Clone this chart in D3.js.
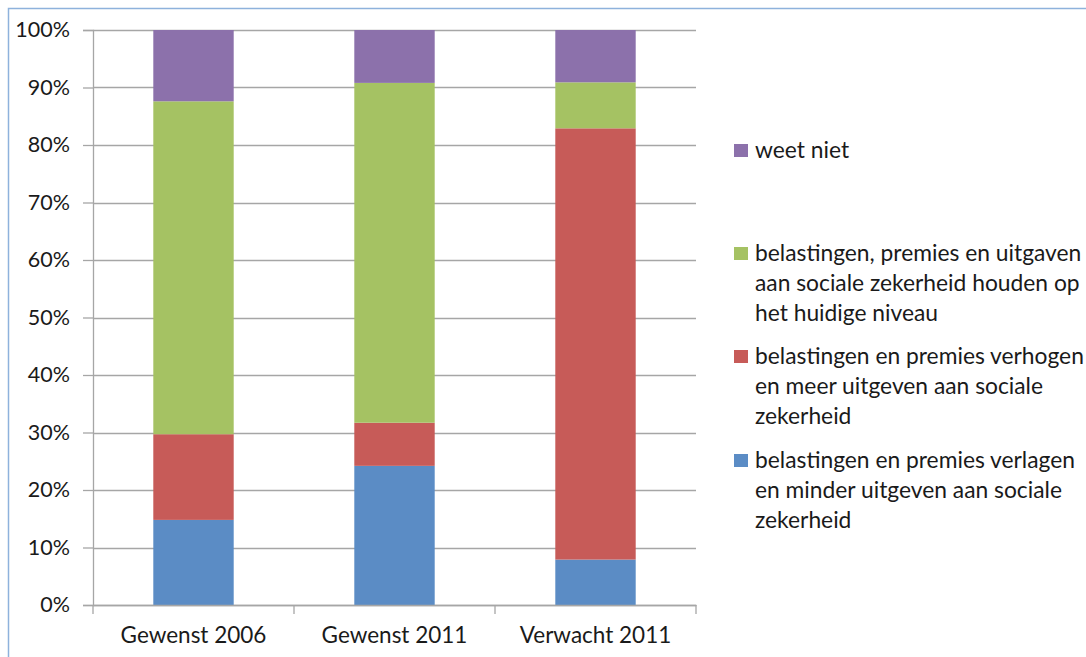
<!DOCTYPE html>
<html>
<head>
<meta charset="utf-8">
<script src="https://cdn.jsdelivr.net/npm/d3@7"></script>
<style>
  body { margin: 0; background: #fff; }
  svg text { font-family: Lato, "Open Sans", sans-serif; fill: #1a1a1a; }
</style>
</head>
<body>
<div id="chart"></div>
<script>
// categories on the x axis
var categories = ["Gewenst 2006", "Gewenst 2011", "Verwacht 2011"];
// series, bottom to top (percentages)
var verlagen = [14.8, 24.2, 7.9];
var verhogen = [14.9, 7.5, 75.0];
var huidig = [57.9, 59.1, 8.0];
var weetNiet = [12.4, 9.2, 9.1];
var yTicks = [0, 10, 20, 30, 40, 50, 60, 70, 80, 90, 100];

var seriesNames = ["verlagen", "verhogen", "huidig", "weetNiet"];
var seriesValues = { verlagen: verlagen, verhogen: verhogen, huidig: huidig, weetNiet: weetNiet };
var colors = { verlagen: "#5b8cc5", verhogen: "#c75b58", huidig: "#a5c263", weetNiet: "#8c71ab" };
// legend, top to bottom
var legendItems = [
  { key: "weetNiet", lines: ["weet niet"] },
  { key: "huidig", lines: ["belastingen, premies en uitgaven", "aan sociale zekerheid houden op", "het huidige niveau"] },
  { key: "verhogen", lines: ["belastingen en premies verhogen", "en meer uitgeven aan sociale", "zekerheid"] },
  { key: "verlagen", lines: ["belastingen en premies verlagen", "en minder uitgeven aan sociale", "zekerheid"] }
];

var W = 1086, H = 657;
var margin = { top: 30, right: 390, bottom: 52, left: 93 };
var width = W - margin.left - margin.right,
    height = H - margin.top - margin.bottom;

var svg = d3.select("#chart").append("svg")
  .attr("width", W).attr("height", H);

// outer chart frame
svg.append("rect")
  .attr("x", 8.5).attr("y", 8.5)
  .attr("width", W + 20).attr("height", H + 20)
  .attr("fill", "none").attr("stroke", "#8eb2dc").attr("stroke-width", 1.5);

var g = svg.append("g")
  .attr("transform", "translate(" + margin.left + "," + margin.top + ")");

var data = categories.map(function(c, i) {
  var row = { cat: c };
  seriesNames.forEach(function(s) { row[s] = seriesValues[s][i]; });
  return row;
});
var stacked = d3.stack().keys(seriesNames)(data);

var x = d3.scaleBand().domain(categories).range([0, width])
  .paddingInner(0.6).paddingOuter(0.3);
var y = d3.scaleLinear().domain([0, 100]).range([height, 0]);

// gridlines
g.selectAll(".grid").data(yTicks).enter().append("line")
  .attr("x1", 0).attr("x2", width)
  .attr("y1", function(d) { return Math.round(y(d)) + 0.5; })
  .attr("y2", function(d) { return Math.round(y(d)) + 0.5; })
  .attr("stroke", "#a6a6a6").attr("stroke-width", 1.3);

// bars
g.selectAll(".layer").data(stacked).enter().append("g")
  .attr("fill", function(d) { return colors[d.key]; })
  .selectAll("rect").data(function(d) { return d; }).enter().append("rect")
    .attr("x", function(d) { return x(d.data.cat); })
    .attr("width", x.bandwidth())
    .attr("y", function(d) { return y(d[1]); })
    .attr("height", function(d) { return y(d[0]) - y(d[1]); });

// y axis
var yAxis = g.append("g")
  .call(d3.axisLeft(y).tickValues(yTicks).tickSize(10).tickPadding(13)
    .tickFormat(function(d) { return d + "%"; }));
yAxis.select(".domain").attr("stroke", "#a6a6a6").attr("stroke-width", 1.3);
yAxis.selectAll(".tick line").attr("stroke", "#a6a6a6").attr("stroke-width", 1.3);
yAxis.selectAll("text").style("font-size", "21.5px").attr("fill", "#1a1a1a");

// x axis
var xAxis = g.append("g").attr("transform", "translate(0," + height + ")")
  .call(d3.axisBottom(x).tickSize(0).tickPadding(22));
xAxis.select(".domain").attr("stroke", "#a6a6a6").attr("stroke-width", 1.3);
xAxis.selectAll("text").style("font-size", "22.5px").attr("fill", "#1a1a1a");
// category separators
g.selectAll(".sep").data(d3.range(categories.length + 1)).enter().append("line")
  .attr("x1", function(i) { return i * width / categories.length; })
  .attr("x2", function(i) { return i * width / categories.length; })
  .attr("y1", height).attr("y2", height + 9)
  .attr("stroke", "#a6a6a6").attr("stroke-width", 1.3);

// legend
var legendX = 734;
var legendStarts = [158, 261, 364, 468];
var lineH = 30;
legendItems.forEach(function(item, i) {
  var lg = svg.append("g");
  lg.append("rect")
    .attr("x", legendX).attr("y", legendStarts[i] - 14)
    .attr("width", 14).attr("height", 13)
    .attr("fill", colors[item.key]);
  item.lines.forEach(function(l, j) {
    lg.append("text")
      .attr("x", legendX + 21).attr("y", legendStarts[i] + j * lineH)
      .style("font-size", "22.8px")
      .text(l);
  });
});
</script>
</body>
</html>
